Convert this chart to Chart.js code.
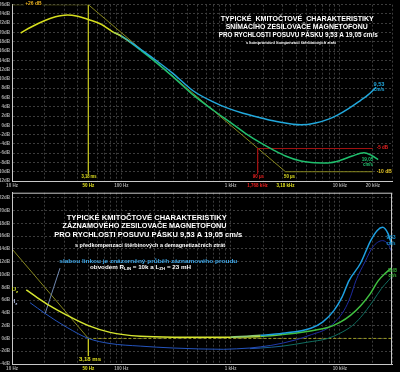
<!DOCTYPE html>
<html lang="cs">
<head>
<meta charset="UTF-8">
<title>Kmitočtové charakteristiky magnetofonu</title>
<style>
    html, body { margin: 0; padding: 0; background: #000; }
    canvas { display: block; background: #000; }
</style>
<script src="https://cdn.jsdelivr.net/npm/chart.js"></script>
</head>
<body>
<canvas id="snimaci" width="400" height="188"></canvas>
<canvas id="zaznamovy" width="400" height="184"></canvas>
<script>
// ---------- horní graf: snímací zesilovač ----------
const topCommonF  = [12, 15, 20, 25, 32, 40, 50, 64, 84];
const topCommonDb = [19.9, 21.2, 22.6, 23.4, 23.8, 23.5, 22.8, 21.9, 20.1];

const top953F  = [84, 100, 121, 150, 200, 300, 457, 700, 940, 1300, 1900, 2800, 4400, 6000, 8000, 9500, 12000, 15500, 18000, 21500];
const top953Db = [20.1, 19.3, 18.0, 16.4, 14.3, 11.1, 7.4, 5.0, 3.7, 2.6, 1.6, 0.7, 0.1, 0.5, 1.4, 2.2, 3.6, 5.4, 6.5, 8.2];

const top1905F  = [84, 100, 121, 150, 200, 300, 457, 700, 1000, 1400, 1884, 2500, 3180, 4400, 5500, 7760, 10000, 13000, 16600, 19500, 22400];
const top1905Db = [20.1, 19.2, 17.9, 16.2, 13.9, 10.4, 6.5, 3.2, 0.6, -1.9, -3.8, -5.4, -6.6, -7.7, -8.0, -8.1, -7.6, -6.6, -5.9, -6.5, -7.4];

const topAsymF  = [10, 50, 3180, 20000];
const topAsymDb = [26, 26, -10, -10];
const topRedF   = [20000, 1768, 1768];
const topRedDb  = [-5, -5, -10.4];
const top50F    = [50, 50];
const top50Db   = [26, -10.4];

const topYTicks   = [-12, -10, -8, -6, -4, -2, 0, 2, 4, 6, 8, 10, 12, 14, 16, 18, 20, 22, 24, 26];
const topXTickF   = [10, 50, 100, 1000, 1768, 3180, 10000, 20000];
const topXTickTxt = ['10 Hz', '50 Hz', '100 Hz', '1 kHz', '1,768 kHz', '3,18 kHz', '10 kHz', '20 kHz'];

// ---------- dolní graf: záznamový zesilovač ----------
const uzCommonF  = [13.5, 17, 22.3, 32, 50, 79, 149, 300, 600, 1000];
const uzCommonDb = [7.6, 6.4, 5.1, 3.6, 2.0, 0.95, 0.33, 0.2, 0.2, 0.2];
const uz953F  = [1000, 1884, 3000, 5420, 7000, 8810, 10500, 12100, 15500, 19000, 22000, 24600, 27600, 30000];
const uz953Db = [0.2, 0.5, 0.8, 1.6, 2.6, 4.35, 6.5, 9.0, 11.8, 15.2, 16.9, 17.4, 16.4, 14.5];
const uz1905F  = [1000, 1884, 3000, 5000, 7760, 10000, 12500, 15500, 19000, 22400, 26500, 30000];
const uz1905Db = [0.2, 0.3, 0.6, 1.1, 1.7, 2.5, 3.6, 5.1, 7.0, 9.0, 10.3, 11.1];

const izCommonF  = [14.6, 20.1, 32, 50, 79, 149, 300, 863, 1500];
const izCommonDb = [5.6, 3.9, 1.7, 0.0, -0.8, -1.2, -1.5, -1.7, -1.5];
const iz953F  = [1500, 2330, 4000, 5500, 7760, 9500, 10900, 12500, 14000, 17000, 20000, 24600, 28000, 30000];
const iz953Db = [-1.5, -1.1, -0.2, 0.6, 1.6, 3.0, 4.35, 6.5, 9.0, 12.0, 14.3, 15.3, 14.6, 13.4];
const iz1905F  = [1500, 1884, 3000, 5000, 7760, 10000, 13000, 15500, 20000, 24000, 27600, 30000];
const iz1905Db = [-1.6, -1.5, -1.2, -0.6, 0.0, 0.8, 2.0, 3.3, 5.8, 7.8, 9.0, 9.7];

const botDiagF   = [10, 50];
const botDiagDb  = [14, 0];
const botZeroF   = [50, 30000];
const botZeroDb  = [0, 0];
const bot50F     = [50, 50];
const bot50Db    = [0, -2.8];
const pointerF   = [20.1, 27.5];
const pointerDb  = [3.9, 11.0];

const botYTicks   = [-4, -2, 0, 2, 4, 6, 8, 10, 12, 14, 16, 18, 20, 22];
const botXTickF   = [10, 50, 100, 1000, 10000];
const botXTickTxt = ['10 Hz', '50 Hz', '100 Hz', '1 kHz', '10 kHz'];

const FONT = '"Liberation Sans", Arial, sans-serif';
const YELLOW = [214, 222, 30], CYAN = [34, 168, 220], GREEN = [32, 192, 110];
const B_YELLOW = [214, 230, 48], B_BLUE = [36, 84, 190], B_CYAN = [30, 160, 225];
const B_DBLUE = [30, 44, 160], B_GREEN = [64, 192, 64], B_TEAL = [16, 110, 96];

const pts = (fs, ds) => fs.map((f, i) => ({ x: f, y: ds[i] }));
const rgb = c => `rgb(${c[0]},${c[1]},${c[2]})`;

function fade(c1, c2, f0, f1) {
    return ctx => {
        const f = Math.sqrt(ctx.p0.parsed.x * ctx.p1.parsed.x);
        let t = (Math.log(f) - Math.log(f0)) / (Math.log(f1) - Math.log(f0));
        t = Math.max(0, Math.min(1, t));
        return rgb(c1.map((v, i) => Math.round(v + (c2[i] - v) * t)));
    };
}

function curve(fs, ds, color, width, seg) {
    const d = { data: pts(fs, ds), borderColor: rgb(color), borderWidth: width, pointRadius: 0,
        showLine: true, cubicInterpolationMode: 'monotone', fill: false };
    if (seg) d.segment = { borderColor: seg };
    return d;
}

function straight(fs, ds, color, width, dash) {
    return { data: pts(fs, ds), borderColor: color, borderWidth: width, pointRadius: 0,
        showLine: true, tension: 0, borderDash: dash || [] };
}

function logGrid(maxF) {
    const out = [];
    for (let d = 10; d <= maxF; d *= 10)
        for (let m = 1; m <= 9; m++) if (m * d <= maxF) out.push(m * d);
    return out;
}

function options(cfg) {
    const grid = logGrid(30000);
    const xTicks = Array.from(new Set(grid.concat(cfg.xF))).sort((a, b) => a - b);
    return {
        responsive: false,
        animation: false,
        layout: { padding: { top: cfg.padTop, right: 8, left: 0, bottom: 0 } },
        plugins: { legend: { display: false }, tooltip: { enabled: false } },
        scales: {
            x: {
                type: 'logarithmic', min: 10, max: 30000,
                afterBuildTicks: s => { s.ticks = xTicks.map(v => ({ value: v })); },
                afterFit: s => { s.height = cfg.xHeight; },
                ticks: {
                    autoSkip: false, maxRotation: 0, padding: 2,
                    font: { size: 4.5, family: FONT, weight: 'bold' },
                    color: c => cfg.xColors[c.tick && c.tick.value] || '#a8a8a8',
                    callback: v => { const i = cfg.xF.indexOf(v); return i >= 0 ? cfg.xT[i] : ''; }
                },
                grid: {
                    drawTicks: false,
                    color: c => grid.includes(c.tick && c.tick.value) ? '#3c3c3c' : 'rgba(0,0,0,0)'
                },
                border: { color: '#c8c8c8', dash: [2, 2] }
            },
            y: {
                min: cfg.yMin, max: cfg.yMax,
                afterBuildTicks: s => { s.ticks = cfg.yTicks.map(v => ({ value: v })); },
                afterFit: s => { s.width = 12; },
                ticks: {
                    padding: 2, font: { size: 4.5, family: FONT, weight: 'bold' }, color: '#a8a8a8',
                    callback: v => v + 'dB'
                },
                grid: { drawTicks: false, color: '#3c3c3c' },
                border: { color: '#c8c8c8', dash: [2, 2] }
            }
        }
    };
}

function drawItem(ctx, it) {
    const parts = it.parts || [{ t: it.t }];
    const size = it.size;
    const fnt = sz => `bold ${sz}px ${FONT}`;
    let natural = 0;
    parts.forEach(p => { ctx.font = fnt(p.sub ? size * 0.7 : size); natural += ctx.measureText(p.t).width; });
    const target = it.w || natural;
    const k = target / natural;
    let x = it.x - (it.align === 'left' ? 0 : target / 2);
    if (it.bg) {
        ctx.fillStyle = it.bg;
        ctx.fillRect(x - 1, it.y - size / 2 - 0.5, target + 2, size + 1);
    }
    ctx.fillStyle = it.color;
    ctx.textBaseline = 'middle';
    ctx.textAlign = 'left';
    parts.forEach(p => {
        const sz = p.sub ? size * 0.7 : size;
        ctx.font = fnt(sz);
        const w = ctx.measureText(p.t).width * k;
        ctx.save();
        ctx.translate(x, it.y + (p.sub ? size * 0.35 : 0));
        ctx.scale(k, 1);
        ctx.fillText(p.t, 0, 0);
        ctx.restore();
        x += w;
    });
}

function textPlugin(items, frame) {
    return {
        id: 'texty',
        afterDatasetsDraw(chart) {
            const ctx = chart.ctx, a = chart.chartArea;
            ctx.save();
            if (frame) {
                ctx.strokeStyle = '#c8c8c8';
                ctx.lineWidth = 1;
                ctx.strokeRect(a.left + 0.5, a.top + 0.5, a.right - a.left - 1, a.bottom - a.top);
            }
            items.forEach(it => drawItem(ctx, it));
            ctx.restore();
        }
    };
}

// ---------- horní graf ----------
const topTexts = [
    { t: 'TYPICKÉ  KMITOČTOVÉ  CHARAKTERISTIKY', x: 297.3, y: 19, size: 7, w: 153, color: '#fff' },
    { t: 'SNÍMACÍHO ZESILOVAČE MAGNETOFONU', x: 296.7, y: 27, size: 7, w: 142, color: '#fff' },
    { t: 'PRO RYCHLOSTI POSUVU PÁSKU 9,53 A 19,05 cm/s', x: 298.2, y: 35, size: 7, w: 159, color: '#fff' },
    { t: 's kompromisní kompenzací štěrbinových ztrát', x: 290.9, y: 43, size: 4.2, w: 90, color: '#fff' },
    { t: '+26 dB', x: 33.4, y: 4, size: 5, w: 16.5, color: '#e8b020', bg: '#000' },
    { t: '-10 dB', x: 384.2, y: 172, size: 5, w: 15, color: '#e8c828', bg: '#000' },
    { t: '-5 dB', x: 382.4, y: 148, size: 5, w: 11.3, color: '#e82020', bg: '#000' },
    { t: '9,53', x: 379, y: 85, size: 4.5, w: 11, color: rgb(CYAN) },
    { t: 'cm/s', x: 379, y: 90, size: 4.5, w: 11, color: rgb(CYAN) },
    { t: '19,05', x: 367.5, y: 159.7, size: 4.5, w: 11.6, color: rgb(GREEN) },
    { t: 'cm/s', x: 368, y: 165, size: 4.5, w: 10, color: rgb(GREEN) },
    { t: '3,18 ms', x: 89, y: 177, size: 4.5, w: 15, color: '#e0e020', bg: '#000' },
    { t: '90 μs', x: 258.4, y: 177, size: 4.5, w: 11.3, color: '#e82020', bg: '#000' },
    { t: '50 μs', x: 289.5, y: 176.5, size: 4.5, w: 11, color: '#e0e020', bg: '#000' }
];

new Chart(document.getElementById('snimaci').getContext('2d'), {
    type: 'scatter',
    data: {
        datasets: [
            curve(top953F, top953Db, CYAN, 1.5, fade(YELLOW, CYAN, 84, 118)),
            curve(top1905F, top1905Db, GREEN, 1.5, fade(YELLOW, GREEN, 84, 140)),
            curve(topCommonF, topCommonDb, YELLOW, 1.5),
            straight(topRedF, topRedDb, '#a01212', 1),
            straight(topAsymF, topAsymDb, '#86861e', 1),
            straight(top50F, top50Db, '#bcbc20', 1)
        ]
    },
    options: options({
        padTop: 4, xHeight: 7, yMin: -12, yMax: 26, yTicks: topYTicks,
        xF: topXTickF, xT: topXTickTxt,
        xColors: { 50: '#e0e020', 1768: '#e82020', 3180: '#e0e020' }
    }),
    plugins: [textPlugin(topTexts, false)]
});

// ---------- dolní graf (y souřadnice textů jsou vůči tomuto plátnu) ----------
const botTexts = [
    { t: 'TYPICKÉ KMITOČTOVÉ CHARAKTERISTIKY', x: 146.7, y: 30, size: 7.5, w: 160, color: '#fff' },
    { t: 'ZÁZNAMOVÉHO ZESILOVAČE MAGNETOFONU', x: 144.5, y: 38.3, size: 7.5, w: 164, color: '#fff' },
    { t: 'PRO RYCHLOSTI POSUVU PÁSKU 9,53 A 19,05 cm/s', x: 148.2, y: 46.5, size: 7.5, w: 188, color: '#fff' },
    { t: 's předkompenzací štěrbinových a demagnetizačních ztrát', x: 150, y: 58, size: 5, w: 150, color: '#fff' },
    { t: 'slabou linkou je znázorněný průběh záznamového proudu', x: 148.3, y: 73, size: 6.2, w: 178, color: '#40a8e8' },
    { parts: [{ t: 'obvodem R' }, { t: 'LIN', sub: true }, { t: ' = 10k a L' }, { t: 'ZH', sub: true }, { t: ' = 23 mH' }],
      x: 140.5, y: 79, size: 6.2, w: 101, color: '#fff' },
    { parts: [{ t: 'U' }, { t: 'z', sub: true }], x: 15, y: 101.5, size: 6, color: rgb(B_YELLOW) },
    { parts: [{ t: 'I' }, { t: 'z', sub: true }], x: 15.5, y: 113.5, size: 6, color: '#b8c4e8' },
    { t: '3,18 ms', x: 90, y: 171.5, size: 5.5, w: 22, color: '#e0e020', bg: '#000' },
    { t: '9,53', x: 391, y: 50, size: 4.5, w: 9, color: rgb(B_CYAN) },
    { t: 'cm/s', x: 391, y: 56, size: 4.5, w: 9, color: rgb(B_CYAN) },
    { t: '19,05', x: 392.5, y: 82.7, size: 4.5, w: 9, color: rgb(B_GREEN) },
    { t: 'cm/s', x: 392.5, y: 88, size: 4.5, w: 8, color: rgb(B_GREEN) }
];

new Chart(document.getElementById('zaznamovy').getContext('2d'), {
    type: 'scatter',
    data: {
        datasets: [
            curve(uz953F, uz953Db, B_CYAN, 1.5, fade(B_YELLOW, B_CYAN, 1000, 2200)),
            curve(uz1905F, uz1905Db, B_GREEN, 1.5, fade(B_YELLOW, B_GREEN, 1200, 3000)),
            curve(uzCommonF, uzCommonDb, B_YELLOW, 1.5),
            curve(iz953F, iz953Db, B_DBLUE, 1, fade(B_BLUE, B_DBLUE, 1500, 4000)),
            curve(iz1905F, iz1905Db, B_TEAL, 1, fade(B_BLUE, B_TEAL, 1500, 4000)),
            curve(izCommonF, izCommonDb, B_BLUE, 1),
            straight(pointerF, pointerDb, '#7088b0', 1),
            straight(botZeroF, botZeroDb, '#9a9a20', 1, [3, 2]),
            straight(botDiagF, botDiagDb, '#86861e', 1),
            straight(bot50F, bot50Db, '#c8c820', 1)
        ]
    },
    options: options({
        padTop: 3, xHeight: 8, yMin: -4, yMax: 22.8, yTicks: botYTicks,
        xF: botXTickF, xT: botXTickTxt,
        xColors: { 50: '#e0e020' }
    }),
    plugins: [textPlugin(botTexts, true)]
});
</script>
</body>
</html>
